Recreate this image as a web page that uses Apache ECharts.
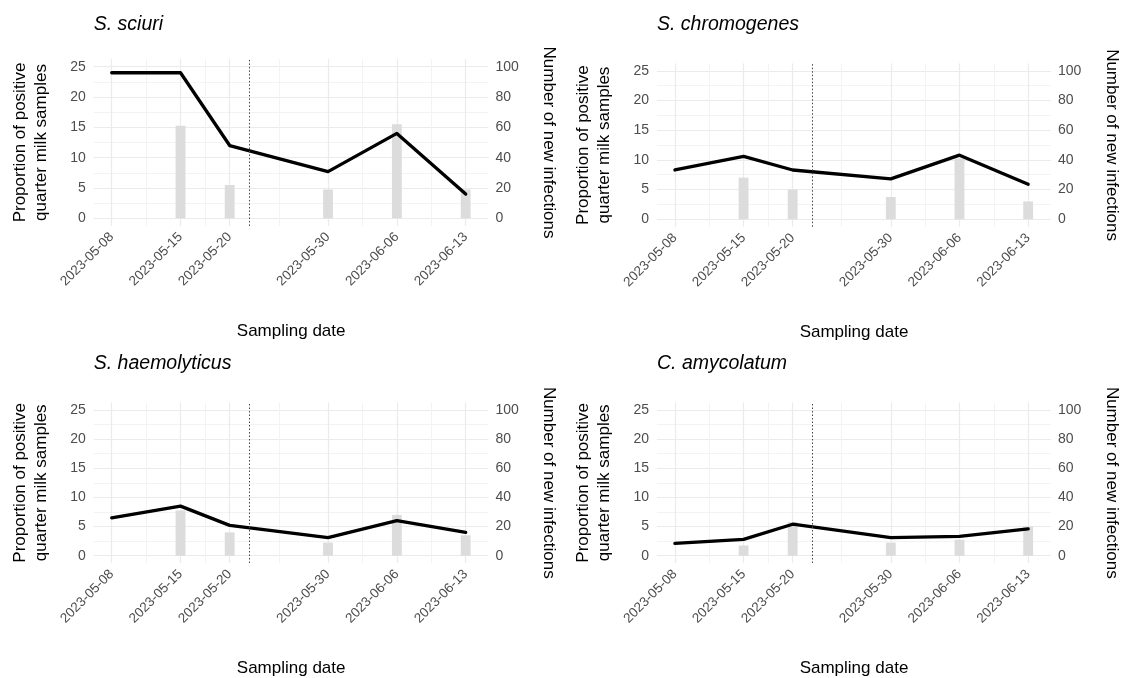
<!DOCTYPE html>
<html>
<head>
<meta charset="utf-8">
<title>Proportion of positive samples and new infections</title>
<script src="https://cdn.jsdelivr.net/npm/echarts@6/dist/echarts.min.js"></script>
<style>
  html, body { margin: 0; padding: 0; background: #ffffff; }
  #chart { width: 1121px; height: 678px; }
</style>
</head>
<body>
<div id="chart"></div>
<script>
// Sampling dates shared by all four panels
const dates = ['2023-05-08', '2023-05-15', '2023-05-20', '2023-05-30', '2023-06-06', '2023-06-13'];
// Date of the dotted reference line
const interventionDate = '2023-05-22';

const panelTitles = ['S. sciuri', 'S. chromogenes', 'S. haemolyticus', 'C. amycolatum'];

// Proportion of positive quarter milk samples (left axis)
const sciuriProportion       = [24.0, 24.0, 12.0, 7.7, 14.0, 4.0];
const chromogenesProportion  = [8.3, 10.6, 8.3, 6.8, 10.8, 5.9];
const haemolyticusProportion = [6.5, 8.5, 5.2, 3.1, 6.0, 4.0];
const amycolatumProportion   = [2.1, 2.8, 5.4, 3.1, 3.3, 4.6];

// Number of new infections (right axis); none at the first sampling
const sciuriInfections       = [null, 61, 22, 19, 62, 19];
const chromogenesInfections  = [null, 28, 20, 15, 41, 12];
const haemolyticusInfections = [null, 31, 16, 9, 28, 14];
const amycolatumInfections   = [null, 7, 23, 9, 11, 20];

// Axis tick labels
const leftTicks  = [0, 5, 10, 15, 20, 25];
const rightTicks = [0, 20, 40, 60, 80, 100];

const proportions = [sciuriProportion, chromogenesProportion, haemolyticusProportion, amycolatumProportion];
const infections  = [sciuriInfections, chromogenesInfections, haemolyticusInfections, amycolatumInfections];

const DAY = 86400000;
const ts = s => { const p = s.split('-').map(Number); return Date.UTC(p[0], p[1] - 1, p[2]); };
const pad2 = n => (n < 10 ? '0' : '') + n;
const fmtDate = v => { const d = new Date(v); return d.getUTCFullYear() + '-' + pad2(d.getUTCMonth() + 1) + '-' + pad2(d.getUTCDate()); };

const dateTs = dates.map(ts);
const first = dateTs[0], last = dateTs[dateTs.length - 1];
// bars are one day wide, centred on the date; 5% expansion on each side
const dataEnd = last + DAY / 2;
const xPad = 0.05 * (dataEnd - first);
const xMin = first - xPad, xMax = dataEnd + xPad;
const minorX = dateTs.slice(1).map((t, i) => (t + dateTs[i]) / 2);

const leftMax = leftTicks[leftTicks.length - 1];
const rightMax = rightTicks[rightTicks.length - 1];
const ratio = rightMax / leftMax;
const yPad = 0.05 * leftMax;
const minorYRight = leftTicks.slice(1).map((t, i) => (t + leftTicks[i]) / 2 * ratio);

const FONT = '"Liberation Sans", Arial, sans-serif';
const GRID_MAJOR = { color: '#ebebeb', width: 1.2 };
const GRID_MINOR = { color: '#f3f3f3', width: 1 };

const panels = [
  { left: 93.75, top: 59.1, height: 166.8, titleTop: 15 },
  { left: 657.0, top: 63.4, height: 163.3, titleTop: 15 },
  { left: 93.75, top: 402.6, height: 162.1, titleTop: 354 },
  { left: 657.0, top: 402.6, height: 162.1, titleTop: 354 }
];
const PANEL_W = 394.8;
const barPx = PANEL_W * DAY / (xMax - xMin);

const grid = [], xAxis = [], yAxis = [], series = [], title = [];

panels.forEach((p, i) => {
  grid.push({ left: p.left, top: p.top, width: PANEL_W, height: p.height, containLabel: false });

  title.push({
    text: panelTitles[i], left: p.left, top: p.titleTop, padding: 0,
    textStyle: { fontFamily: FONT, fontSize: 19.5, fontStyle: 'italic', fontWeight: 'normal', color: '#000' }
  });

  // main date axis (values are UTC timestamps)
  xAxis.push({
    type: 'value', gridIndex: i, min: xMin, max: xMax, position: 'bottom',
    axisLine: { show: false },
    axisTick: { show: false, customValues: dateTs },
    axisLabel: {
      customValues: dateTs, rotate: 45, margin: 9, formatter: v => fmtDate(v),
      fontFamily: FONT, fontSize: 13.5, color: '#4d4d4d'
    },
    splitLine: { show: true, lineStyle: GRID_MAJOR },
    name: 'Sampling date', nameLocation: 'middle', nameGap: 97,
    nameTextStyle: { fontFamily: FONT, fontSize: 17, color: '#000' }
  });
  // minor vertical grid lines midway between sampling dates
  xAxis.push({
    type: 'value', gridIndex: i, min: xMin, max: xMax, position: 'top',
    axisLine: { show: false },
    axisTick: { show: false, customValues: minorX },
    axisLabel: { show: false, customValues: minorX },
    splitLine: { show: true, lineStyle: GRID_MINOR }
  });

  yAxis.push({
    type: 'value', gridIndex: i, position: 'left', min: -yPad, max: leftMax + yPad,
    axisLine: { show: false },
    axisTick: { show: false, customValues: leftTicks },
    axisLabel: { customValues: leftTicks, margin: 8, fontFamily: FONT, fontSize: 14, color: '#4d4d4d' },
    splitLine: { show: true, lineStyle: GRID_MAJOR },
    name: 'Proportion of positive\nquarter milk samples', nameLocation: 'middle', nameRotate: 90, nameGap: 42,
    nameTextStyle: { fontFamily: FONT, fontSize: 17, color: '#000', lineHeight: 21 }
  });
  yAxis.push({
    type: 'value', gridIndex: i, position: 'right', min: -yPad * ratio, max: (leftMax + yPad) * ratio,
    axisLine: { show: false },
    axisTick: { show: false, customValues: minorYRight },
    axisLabel: { customValues: rightTicks, margin: 7, fontFamily: FONT, fontSize: 14, color: '#4d4d4d' },
    splitLine: { show: true, lineStyle: GRID_MINOR },
    name: 'Number of new infections', nameLocation: 'middle', nameRotate: -90, nameGap: 52,
    nameTextStyle: { fontFamily: FONT, fontSize: 17, color: '#000' }
  });

  const barData = [];
  infections[i].forEach((v, k) => { if (v !== null) barData.push([dateTs[k], v]); });

  series.push({
    type: 'bar', xAxisIndex: 2 * i, yAxisIndex: 2 * i + 1,
    data: barData, barWidth: barPx,
    itemStyle: { color: '#dcdcdc' }, silent: true, z: 2
  });
  series.push({
    type: 'line', xAxisIndex: 2 * i, yAxisIndex: 2 * i,
    data: proportions[i].map((v, k) => [dateTs[k], v]),
    showSymbol: false, symbol: 'none',
    lineStyle: { color: '#000', width: 3.3, join: 'round', cap: 'round' },
    silent: true, z: 4,
    markLine: {
      silent: true, symbol: 'none', label: { show: false },
      lineStyle: { type: [1.5, 2], color: '#444', width: 1 },
      data: [{ xAxis: ts(interventionDate) }]
    }
  });
});

const chart = echarts.init(document.getElementById('chart'), null, { renderer: 'canvas' });
chart.setOption({ animation: false, backgroundColor: '#ffffff', title, grid, xAxis, yAxis, series });
</script>
</body>
</html>
